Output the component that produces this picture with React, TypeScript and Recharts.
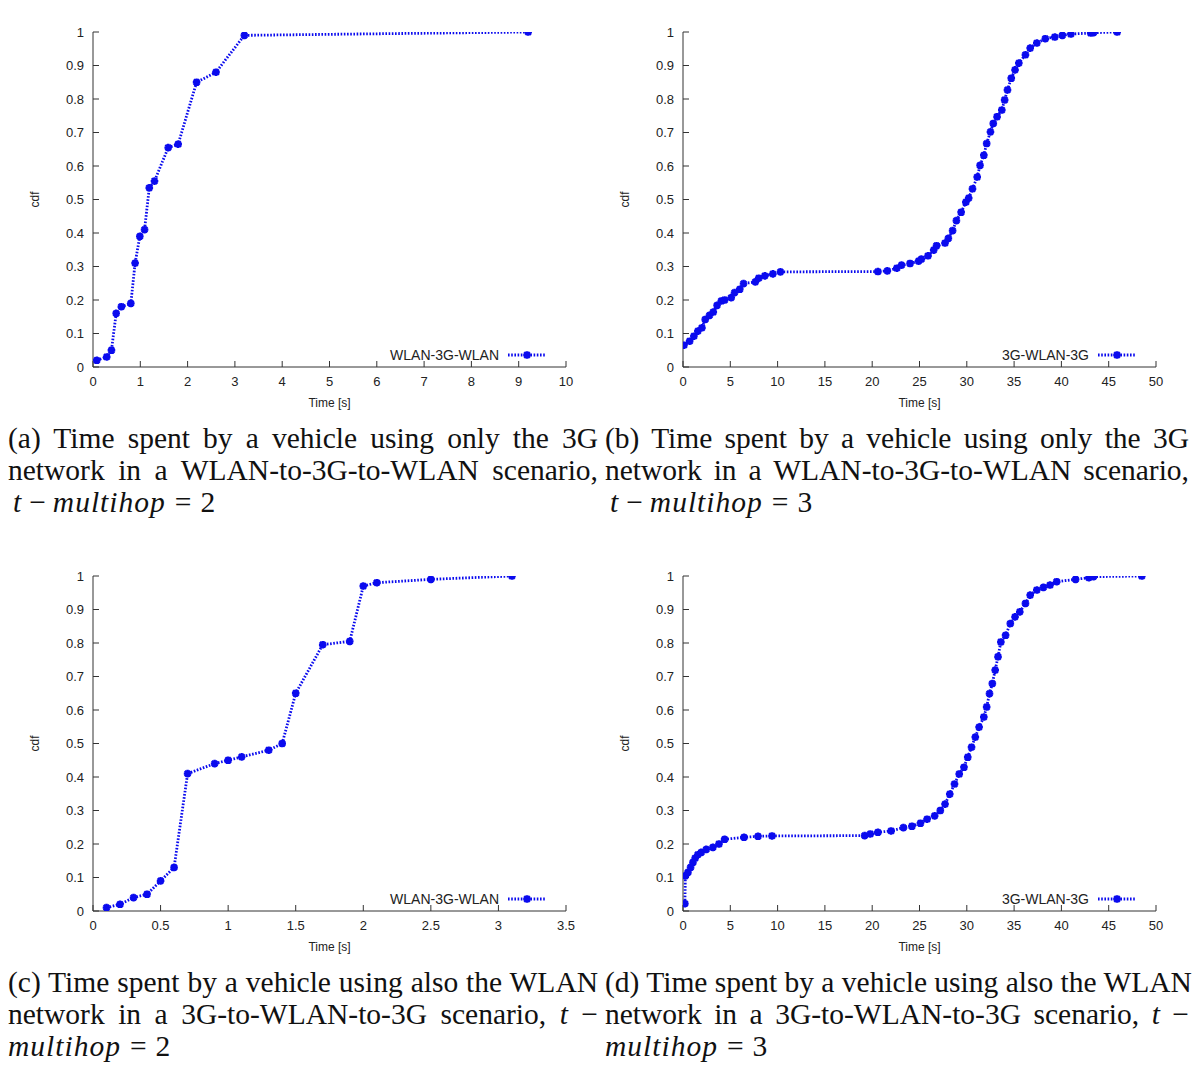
import { LineChart, Line, XAxis, YAxis, Legend } from "recharts";

const FONT = '"Liberation Sans", Arial, Helvetica, sans-serif';
const SERIF = '"Liberation Serif", "Times New Roman", Times, serif';
const BLUE = "#0a0aee";
const AXIS = "#333";

const yTicks = [0, 0.1, 0.2, 0.3, 0.4, 0.5, 0.6, 0.7, 0.8, 0.9, 1];

// (a) WLAN-3G-WLAN, t-multihop = 2
const timeA = [0.08, 0.29, 0.39, 0.49, 0.6, 0.8, 0.89, 0.99, 1.09, 1.19, 1.3, 1.59, 1.8, 2.19, 2.6, 3.2, 9.2];
const cdfA = [0.02, 0.03, 0.05, 0.16, 0.18, 0.19, 0.31, 0.39, 0.41, 0.535, 0.555, 0.655, 0.665, 0.85, 0.88, 0.99, 1];
const ticksA = [0, 1, 2, 3, 4, 5, 6, 7, 8, 9, 10];

// (b) 3G-WLAN-3G, t-multihop = 3
const timeB = [0.1, 0.7, 1.15, 1.57, 2.0, 2.35, 2.8, 3.2, 3.6, 4.05, 4.4, 5.1, 5.45, 6.0, 6.4, 7.65, 8.0, 8.65, 9.5, 10.3,
  20.6, 21.6, 22.6, 23.1, 24.0, 24.9, 25.2, 25.9, 26.5, 26.8, 27.7, 28.05, 28.5, 28.9, 29.4, 29.9, 30.2, 30.6, 31.1, 31.4,
  31.8, 32.1, 32.5, 32.8, 33.2, 33.7, 34.0, 34.3, 34.7, 35.1, 35.5, 36.2, 36.7, 37.4, 38.3, 39.3, 40.1, 41.0, 43.1, 43.4, 45.9];
const cdfB = [0.065, 0.077, 0.092, 0.107, 0.117, 0.142, 0.154, 0.164, 0.184, 0.197, 0.2, 0.207, 0.222, 0.232, 0.249, 0.254, 0.265, 0.272, 0.278, 0.284,
  0.285, 0.287, 0.295, 0.304, 0.309, 0.316, 0.322, 0.332, 0.349, 0.362, 0.37, 0.384, 0.407, 0.437, 0.462, 0.492, 0.504, 0.532, 0.567, 0.602,
  0.632, 0.667, 0.702, 0.727, 0.747, 0.767, 0.797, 0.827, 0.862, 0.887, 0.907, 0.932, 0.952, 0.967, 0.98, 0.985, 0.99, 0.994, 0.997, 0.998, 1.0];
const ticksB = [0, 5, 10, 15, 20, 25, 30, 35, 40, 45, 50];

// (c) WLAN-3G-WLAN, t-multihop = 2
const timeC = [0.1, 0.2, 0.3, 0.4, 0.5, 0.6, 0.7, 0.9, 1.0, 1.1, 1.3, 1.4, 1.5, 1.7, 1.9, 2.0, 2.1, 2.5, 3.1];
const cdfC = [0.01, 0.02, 0.04, 0.05, 0.09, 0.13, 0.41, 0.44, 0.45, 0.46, 0.48, 0.5, 0.65, 0.795, 0.805, 0.97, 0.98, 0.99, 1.0];
const ticksC = [0, 0.5, 1, 1.5, 2, 2.5, 3, 3.5];

// (d) 3G-WLAN-3G, t-multihop = 3
const timeD = [0.2, 0.25, 0.52, 0.8, 1.05, 1.29, 1.57, 1.93, 2.46, 3.16, 3.8, 4.4, 6.45, 7.93, 9.41,
  19.2, 19.8, 20.6, 22.0, 23.3, 24.2, 25.1, 25.8, 26.6, 27.2, 27.7, 28.2, 28.7, 29.2, 29.7, 30.1, 30.5, 30.9, 31.3, 31.8,
  32.1, 32.4, 32.7, 33.0, 33.3, 33.6, 34.1, 34.6, 35.1, 35.6, 36.2, 36.7, 37.4, 38.1, 38.8, 39.5, 41.5, 42.9, 43.4, 48.5];
const cdfD = [0.022, 0.105, 0.115, 0.13, 0.145, 0.158, 0.168, 0.175, 0.184, 0.19, 0.2, 0.214, 0.22, 0.223, 0.224,
  0.225, 0.23, 0.235, 0.239, 0.249, 0.253, 0.262, 0.274, 0.284, 0.3, 0.319, 0.349, 0.379, 0.409, 0.429, 0.459, 0.489, 0.519, 0.549, 0.579,
  0.609, 0.649, 0.679, 0.719, 0.759, 0.803, 0.823, 0.858, 0.878, 0.893, 0.918, 0.943, 0.958, 0.966, 0.973, 0.983, 0.99, 0.995, 0.998, 1.0];

function starPath(cx: number, cy: number) {
  const r = 3.8, d = 2.8;
  return `M${cx - r},${cy}H${cx + r}M${cx},${cy - r}V${cy + r}M${cx - d},${cy - d}L${cx + d},${cy + d}M${cx - d},${cy + d}L${cx + d},${cy - d}`;
}

const renderStar = (p: any) => {
  const { cx, cy, index } = p;
  if (cx == null || cy == null) return <g key={index} />;
  return <path key={index} d={starPath(cx, cy)} stroke={BLUE} strokeWidth={2.4} fill="none" />;
};

type PanelProps = {
  left: number;
  top: number;
  time: number[];
  cdf: number[];
  xMax: number;
  xTicks: number[];
  name: string;
};

function Panel({ left, top, time, cdf, xMax, xTicks, name }: PanelProps) {
  const data = time.map((t, i) => ({ t, cdf: cdf[i] }));
  const tickStyle = { fill: "#222", fontSize: 13, fontFamily: FONT };
  return (
    <div style={{ position: "absolute", left, top }}>
      <LineChart width={600} height={412} data={data} margin={{ top: 32, right: 34, bottom: 0, left: 0 }}>
        <XAxis dataKey="t" type="number" domain={[0, xMax]} ticks={xTicks} interval={0} height={45}
          stroke={AXIS} tickSize={-6} tickMargin={16} tick={tickStyle} allowDataOverflow
          label={{
            content: ({ viewBox }: any) => (
              <text x={viewBox.x + viewBox.width / 2} y={viewBox.y + 40} textAnchor="middle"
                fill="#222" fontSize={12} fontFamily={FONT}>Time [s]</text>
            ),
          }} />
        <XAxis xAxisId="top" orientation="top" type="number" domain={[0, xMax]} ticks={xTicks} interval={0}
          height={0} tick={false} tickSize={-6} stroke={AXIS} allowDataOverflow />
        <YAxis type="number" domain={[0, 1]} ticks={yTicks} interval={0} width={93} stroke={AXIS}
          tickSize={-6} tickMargin={15} tick={tickStyle} allowDataOverflow
          label={{
            content: ({ viewBox }: any) => {
              const cy = viewBox.y + viewBox.height / 2;
              return (
                <text x={35} y={cy} transform={`rotate(-90 35 ${cy})`} textAnchor="middle" dominantBaseline="central"
                  fill="#222" fontSize={12} fontFamily={FONT}>cdf</text>
              );
            },
          }} />
        <YAxis yAxisId="right" orientation="right" type="number" domain={[0, 1]} ticks={yTicks} interval={0}
          width={0} tick={false} tickSize={-6} stroke={AXIS} allowDataOverflow />
        <Legend verticalAlign="middle" align="center"
          wrapperStyle={{ top: 346, right: 54, left: "auto", width: "auto", height: 18 }}
          content={() => (
            <div style={{ display: "flex", alignItems: "center", height: 18, fontFamily: FONT, fontSize: 14, color: "#222" }}>
              <span>{name}</span>
              <svg width={47} height={12} style={{ display: "block" }}>
                <line x1={9} y1={6} x2={47} y2={6} stroke={BLUE} strokeWidth={2.8} strokeDasharray="1.6 1.6" />
                <path d={starPath(28, 6)} stroke={BLUE} strokeWidth={2.4} fill="none" />
              </svg>
            </div>
          )} />
        <Line dataKey="cdf" type="linear" stroke={BLUE} strokeWidth={2.8} strokeDasharray="1.6 1.6"
          dot={renderStar} activeDot={false} isAnimationActive={false} />
      </LineChart>
    </div>
  );
}

function Caption({ left, top, width, lines }: { left: number; top: number; width: number; lines: React.ReactNode[] }) {
  return (
    <div style={{ position: "absolute", left, top, width, fontFamily: SERIF, fontSize: 29.5, lineHeight: "32px", color: "#111" }}>
      {lines.map((l, i) => (
        <div key={i} style={i < lines.length - 1 ? { textAlign: "justify", textAlignLast: "justify", whiteSpace: "nowrap" } : { textAlign: "left", whiteSpace: "nowrap" }}>{l}</div>
      ))}
    </div>
  );
}

const Mh = ({ n }: { n: number }) => (
  <span style={{ paddingLeft: 5 }}>
    <i style={{ letterSpacing: 1 }}>t</i>
    <span style={{ margin: "0 7px" }}>−</span>
    <i style={{ letterSpacing: 1 }}>multihop</i>
    <span style={{ margin: "0 9px" }}>=</span>{n}
  </span>
);

export default function App() {
  return (
    <div style={{ position: "relative", width: 1200, height: 1082, background: "#fff", overflow: "hidden" }}>
      <style>{"body{margin:0}"}</style>
      <Panel left={0} top={0} time={timeA} cdf={cdfA} xMax={10} xTicks={ticksA} name="WLAN-3G-WLAN" />
      <Panel left={590} top={0} time={timeB} cdf={cdfB} xMax={50} xTicks={ticksB} name="3G-WLAN-3G" />
      <Panel left={0} top={544} time={timeC} cdf={cdfC} xMax={3.5} xTicks={ticksC} name="WLAN-3G-WLAN" />
      <Panel left={590} top={544} time={timeD} cdf={cdfD} xMax={50} xTicks={ticksB} name="3G-WLAN-3G" />
      <Caption left={8} top={422} width={590} lines={[
        "(a) Time spent by a vehicle using only the 3G",
        "network in a WLAN-to-3G-to-WLAN scenario,",
        <Mh n={2} />,
      ]} />
      <Caption left={605} top={422} width={584} lines={[
        "(b) Time spent by a vehicle using only the 3G",
        "network in a WLAN-to-3G-to-WLAN scenario,",
        <Mh n={3} />,
      ]} />
      <Caption left={8} top={966} width={590} lines={[
        "(c) Time spent by a vehicle using also the WLAN",
        <span>network in a 3G-to-WLAN-to-3G scenario, <i>t</i> −</span>,
        <span><i style={{ letterSpacing: 1 }}>multihop</i><span style={{ margin: "0 9px" }}>=</span>2</span>,
      ]} />
      <Caption left={605} top={966} width={584} lines={[
        "(d) Time spent by a vehicle using also the WLAN",
        <span>network in a 3G-to-WLAN-to-3G scenario, <i>t</i> −</span>,
        <span><i style={{ letterSpacing: 1 }}>multihop</i><span style={{ margin: "0 9px" }}>=</span>3</span>,
      ]} />
    </div>
  );
}
